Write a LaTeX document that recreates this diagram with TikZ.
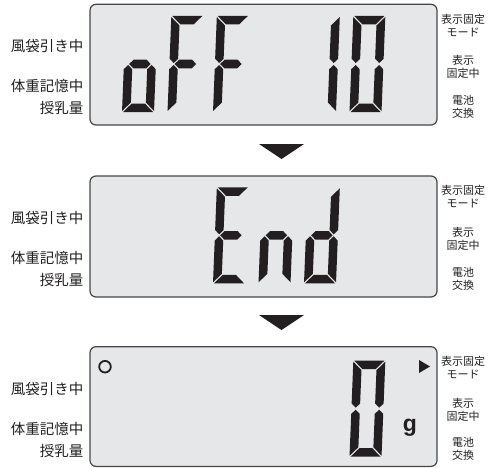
\documentclass[tikz,border=0pt]{standalone}
\usepackage{fontspec}
\setmainfont{Liberation Sans}
\newfontfamily\jpfont{Noto Sans CJK JP}
\usepackage{xcolor}

\definecolor{lcdgray}{RGB}{230,231,232}
\definecolor{lcdink}{RGB}{35,31,32}
\definecolor{lcdrim}{RGB}{70,70,70}

\tikzset{
  lcdpanel/.style={rounded corners=6pt, draw=lcdrim, line width=1.2pt, fill=lcdgray},
  sidelabel/.style={font=\jpfont\fontsize{14.5}{17}\selectfont, text=lcdink, inner sep=0pt, anchor=east},
  modelabel/.style={font=\jpfont\fontsize{11}{13}\selectfont, text=lcdink, inner sep=0pt, align=center},
}

% seven segments of one digit, 32 wide and 96 high
\def\sega{(1,96) -- (31,96) -- (22.5,87.5) -- (9.5,87.5) -- cycle}
\def\segb{(32,95) -- (23.5,86.5) -- (23.5,53.25) -- (27.75,49) -- (32,53.25) -- cycle}
\def\segc{(32,1) -- (23.5,9.5) -- (23.5,42.75) -- (27.75,47) -- (32,42.75) -- cycle}
\def\segd{(1,0) -- (31,0) -- (22.5,8.5) -- (9.5,8.5) -- cycle}
\def\sege{(0,1) -- (8.5,9.5) -- (8.5,42.75) -- (4.25,47) -- (0,42.75) -- cycle}
\def\segf{(0,95) -- (8.5,86.5) -- (8.5,53.25) -- (4.25,49) -- (0,53.25) -- cycle}
\def\segg{(5.25,48) -- (9.5,52.25) -- (22.5,52.25) -- (26.75,48) -- (22.5,43.75) -- (9.5,43.75) -- cycle}

\newcommand{\lcddigit}[3]{%
  \begin{scope}[shift={(#1,#2)}, xslant=0.04, fill=lcdink]
    \foreach \s in {#3} {\expandafter\expandafter\expandafter\fill\csname seg\s\endcsname;}
  \end{scope}}

\begin{document}
\begin{tikzpicture}[x=1pt, y=1pt]
  \useasboundingbox (0,0) rectangle (497,467);

  % the three screens
  \foreach \ptop/\pbot [count=\k] in {462.7/342, 291/170, 120.3/0.6} {
    \draw[lcdpanel] (90,\pbot) rectangle (437,\ptop);
    \node[sidelabel] (tare\k) at (83.5,\ptop-42) {風袋引き中};
    \node[sidelabel] (memory\k) at (83.5,\ptop-82) {体重記憶中};
    \node[sidelabel] (feed\k) at (83.5,\ptop-104) {授乳量};
    \node[modelabel] (holdmode\k) at (463,\ptop-21) {表示固定\\モード};
    \node[modelabel] (holding\k) at (463,\ptop-63) {表示\\固定中};
    \node[modelabel] (battery\k) at (463,\ptop-102.5) {電池\\交換};
  }

  % oFF 10
  \lcddigit{122}{355}{c,d,e,g}
  \lcddigit{167.5}{355}{a,e,f,g}
  \lcddigit{213}{355}{a,e,f,g}
  \lcddigit{304}{355}{b,c}
  \lcddigit{349.5}{355}{a,b,c,d,e,f}

  % End
  \lcddigit{213}{183.7}{a,d,e,f,g}
  \lcddigit{258.5}{183.7}{c,e,g}
  \lcddigit{304}{183.7}{b,c,d,e,g}

  % 0 g
  \lcddigit{349.5}{10.3}{a,b,c,d,e,f}
  \node[font=\bfseries\fontsize{23}{23}\selectfont, text=lcdink, anchor=base, inner sep=0pt] (unit) at (410,36) {g};
  \fill[lcdink] (419,107) -- (419,94) -- (430,100.5) -- cycle;
  \draw[lcdink, line width=1.8pt] (105,100.3) circle (5.8);

  % arrows between the screens
  \fill[lcdink] (259,323) -- (304,323) -- (281.5,308) -- cycle;
  \fill[lcdink] (259,152) -- (304,152) -- (281.5,137) -- cycle;
\end{tikzpicture}
\end{document}
